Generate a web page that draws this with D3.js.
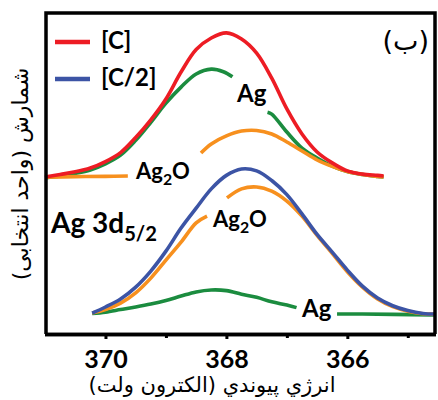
<!DOCTYPE html>
<html><head><meta charset="utf-8">
<script src="https://cdn.jsdelivr.net/npm/d3@7/dist/d3.min.js"></script>
<style>body{margin:0;background:#fff}</style>
</head><body><svg id="c" width="438" height="400"></svg>
<script>
// ---- data (binding energy eV, intensity a.u.) ----
const xTicksMajor = [370, 368, 366];
const xTicksMinor = [369, 367, 365];
const legendNames = ["[C]", "[C/2]"];

const totalC = [[371,48.6],[370.75,49.4],[370.5,50.2],[370.25,51.4],[370,53.4],[369.75,56.2],[369.5,60.9],[369.25,66.4],[369,72.9],[368.75,81.3],[368.5,88.3],[368.25,91.9],[368,93.5],[367.75,91.6],[367.5,87.2],[367.25,79.4],[367,69.8],[366.75,62.0],[366.5,56.4],[366.25,53.0],[366,50.5],[365.75,49.5],[365.5,49.1],[365.4,48.9]];
const agC_a = [[371,48.3],[370.75,48.9],[370.5,49.7],[370.25,50.8],[370,52.7],[369.75,55.4],[369.5,60.0],[369.25,65.6],[369,71.6],[368.75,76.6],[368.5,80.7],[368.25,82.2],[368.05,81.4],[367.9,79.8]];
const agC_b = [[367.32,68.8],[367.25,68.2],[367,62.6],[366.75,57.6],[366.5,54.5],[366.25,52.0],[366,50.3],[365.75,49.4],[365.5,48.8],[365.4,48.6]];
const ag2oC_a = [[371,48.5],[370.5,48.7],[370,48.8],[369.63,48.9]];
const ag2oC_b = [[368.42,56.1],[368.25,58.9],[368,61.4],[367.75,62.9],[367.5,63.1],[367.25,62.0],[367,59.5],[366.75,56.7],[366.5,53.9],[366.25,51.9],[366,50.3],[365.75,49.4],[365.5,48.8],[365.4,48.6]];

const totalC2 = [[370.22,6.2],[370,8.1],[369.75,10.6],[369.5,14.3],[369.25,19.3],[369,25.5],[368.75,32.7],[368.5,38.9],[368.25,44.9],[368,49.1],[367.75,51.1],[367.5,50.5],[367.25,47.5],[367,43.1],[366.75,37.1],[366.5,30.7],[366.25,25.2],[366,19.6],[365.75,14.6],[365.5,10.9],[365.25,8.5],[365,7.0],[364.75,6.1],[364.55,5.9]];
const ag2oC2_a = [[370.22,6.2],[370,7.3],[369.75,9.3],[369.5,12.5],[369.25,17.1],[369,22.7],[368.75,28.3],[368.5,34.3],[368.32,36.4]];
const ag2oC2_b = [[367.99,42.1],[367.75,44.9],[367.5,45.5],[367.25,44.2],[367,41.1],[366.75,36.4],[366.5,30.4],[366.25,24.8],[366,19.1],[365.75,14.3],[365.5,10.6],[365.25,8.2],[365,6.8],[364.75,6.0],[364.55,5.9]];
const agC2_a = [[370.22,6.1],[370,6.5],[369.75,7.3],[369.5,8.1],[369.25,9.0],[369,10.1],[368.75,11.5],[368.5,12.8],[368.25,13.4],[368,13.2],[367.75,12.1],[367.5,11.1],[367.25,9.7],[367,8.7],[366.84,7.9]];
const agC2_b = [[366.17,5.9],[365.75,5.9],[365.25,5.8],[364.55,5.6]];

// ---- drawing ----
const RED = "#ED1C24", BLUE = "#3C54A5", GREEN = "#1B8C3F", ORANGE = "#F7901E";
const svg = d3.select("#c");
const x = d3.scaleLinear().domain([371, 364.55]).range([45, 435]);
const y = d3.scaleLinear().domain([0, 100]).range([333, 12]);
const line = d3.line().x(d => x(d[0])).y(d => y(d[1])).curve(d3.curveCatmullRom);

function draw(data, color) {
  svg.append("path").attr("d", line(data)).attr("fill", "none")
    .attr("stroke", color).attr("stroke-width", 3.6).attr("stroke-linecap", "butt");
}
draw(agC_a, GREEN); draw(agC_b, GREEN);
draw(ag2oC_a, ORANGE); draw(ag2oC_b, ORANGE);
draw(totalC, RED);
draw(agC2_a, GREEN); draw(agC2_b, GREEN);
draw(ag2oC2_a, ORANGE); draw(ag2oC2_b, ORANGE);
draw(totalC2, BLUE);

// frame
svg.append("path").attr("d", "M46,334 L46,13 L435,13 L435,334")
  .attr("fill", "none").attr("stroke", "#000").attr("stroke-width", 3.5);

// axes
const gMinor = svg.append("g").attr("transform", "translate(0,334)")
  .call(d3.axisBottom(x).tickValues(xTicksMinor).tickSize(4).tickFormat(""));
const gMajor = svg.append("g").attr("transform", "translate(0,334)")
  .call(d3.axisBottom(x).tickValues(xTicksMajor).tickSize(5).tickFormat(d3.format("d")));
[gMinor, gMajor].forEach(g => {
  g.select(".domain").attr("d", "M45,0.5H436").attr("stroke", "#000").attr("stroke-width", 3.5);
  g.selectAll(".tick line").attr("stroke", "#000").attr("stroke-width", 3);
});
gMajor.selectAll(".tick text").attr("y", 34).attr("dy", 0)
  .attr("font-family", "Lato, sans-serif").attr("font-weight", "bold")
  .attr("font-size", 25).attr("fill", "#000");

// axis titles
svg.append("text").attr("x", 212).attr("y", 392).attr("text-anchor", "middle")
  .attr("font-family", "'DejaVu Sans', sans-serif").attr("font-size", 21)
  .text("انرژي پيوندي (الکترون ولت)");
svg.append("text").attr("transform", "translate(28,174) rotate(-90)").attr("text-anchor", "middle")
  .attr("font-family", "'DejaVu Sans', sans-serif").attr("font-size", 22)
  .text("شمارش (واحد انتخابی)");

// legend
const legColors = [RED, BLUE];
legendNames.forEach((n, i) => {
  const yy = 42 + i * 37;
  svg.append("line").attr("x1", 55).attr("x2", 90).attr("y1", yy).attr("y2", yy)
    .attr("stroke", legColors[i]).attr("stroke-width", 4.5);
  svg.append("text").attr("x", 101).attr("y", yy + 7)
    .attr("font-family", "Lato, sans-serif").attr("font-size", 24).attr("font-weight", "bold").text(n);
});

// panel label
svg.append("text").attr("x", 429).attr("y", 50).attr("text-anchor", "end")
  .attr("font-family", "'DejaVu Sans', sans-serif").attr("font-size", 27).text("(ب)");

// annotations
const font = "Lato, sans-serif";
function label(xp, yp, size, main, sub, tail) {
  const t = svg.append("text").attr("x", xp).attr("y", yp)
    .attr("font-family", font).attr("font-size", size).attr("font-weight", "bold");
  t.append("tspan").text(main);
  if (sub) {
    t.append("tspan").attr("dy", size * 0.28).attr("font-size", size * 0.72).text(sub);
    if (tail) t.append("tspan").attr("dy", -size * 0.28).text(tail);
  }
}
label(237, 102, 24, "Ag");
label(136, 179, 22, "Ag", "2", "O");
label(213, 227, 22, "Ag", "2", "O");
label(51, 233, 28, "Ag 3d", "5/2");
label(302, 317, 24, "Ag");
</script></body></html>
